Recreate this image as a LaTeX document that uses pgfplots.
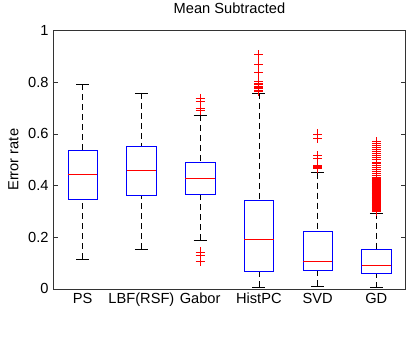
\documentclass[border=0pt]{standalone}
\usepackage{fontspec}
\setmainfont{Liberation Sans}
\usepackage{pgfplots}
\pgfplotsset{compat=1.18}
\usepgfplotslibrary{statistics}
\definecolor{mblue}{RGB}{0,0,255}
\definecolor{mred}{RGB}{255,0,0}
\newcommand{\fs}{\fontsize{14.7}{17}\selectfont}

\pgfplotsset{
  mlbox/.style={
    color=mred,
    boxplot/draw direction=y,
    boxplot/box extend=0.5,
    boxplot/whisker extend=0.22,
    boxplot/every box/.style={draw=mblue,line width=0.6pt},
    boxplot/every median/.style={draw=mred,line width=0.6pt},
    boxplot/draw/lower whisker/.code={
      \draw[black,line width=0.6pt,dash pattern=on 6bp off 4bp]
        (boxplot box cs:\pgfplotsboxplotvalue{lower whisker},0.5)
        -- (boxplot box cs:\pgfplotsboxplotvalue{lower quartile},0.5);
      \draw[black,line width=0.6pt]
        (boxplot whisker cs:\pgfplotsboxplotvalue{lower whisker},0)
        -- (boxplot whisker cs:\pgfplotsboxplotvalue{lower whisker},1);
    },
    boxplot/draw/upper whisker/.code={
      \draw[black,line width=0.6pt,dash pattern=on 6bp off 4bp]
        (boxplot box cs:\pgfplotsboxplotvalue{upper whisker},0.5)
        -- (boxplot box cs:\pgfplotsboxplotvalue{upper quartile},0.5);
      \draw[black,line width=0.6pt]
        (boxplot whisker cs:\pgfplotsboxplotvalue{upper whisker},0)
        -- (boxplot whisker cs:\pgfplotsboxplotvalue{upper whisker},1);
    },
    mark=+, mark size=4.5bp,
    mark options={draw=mred,color=mred,line width=0.8pt,solid},
  }
}

\begin{document}
\begin{tikzpicture}
\begin{axis}[
    name=ax,
    scale only axis,
    width=352.4bp, height=258.3bp,
    xmin=0.5, xmax=6.5, ymin=0, ymax=1,
    xtick={1,2,3,4,5,6},
    xticklabels={PS,LBF(RSF),Gabor,HistPC,SVD,GD},
    ytick={0,0.2,0.4,0.6,0.8,1},
    tick align=inside,
    ytick pos=both,
    major tick length=4.5bp,
    xtick style={draw=none},
    ytick style={black!80,line width=0.6pt},
    axis line style={black!80,line width=0.6pt},
    /pgf/number format/assume math mode=true,
    tick label style={font=\fs},
    xticklabel style={anchor=base,yshift=-14.3bp},
    yticklabel style={xshift=-1.2bp},
    ylabel={Error rate},
    ylabel style={font=\fs,at={(axis description cs:0,0.5)},anchor=base,yshift=35bp},
    title={Mean Subtracted},
    title style={font=\fs,at={(axis description cs:0.5,1)},anchor=base,yshift=10.7bp},
]
% PS
\addplot[mlbox,boxplot prepared={draw position=1,
  lower whisker=0.116, lower quartile=0.347, median=0.444,
  upper quartile=0.537, upper whisker=0.7925}] coordinates {};
% LBF(RSF)
\addplot[mlbox,boxplot prepared={draw position=2,
  lower whisker=0.154, lower quartile=0.364, median=0.461,
  upper quartile=0.551, upper whisker=0.759}] coordinates {};
% Gabor
\addplot[mlbox,boxplot prepared={draw position=3,
  lower whisker=0.189, lower quartile=0.368, median=0.429,
  upper quartile=0.490, upper whisker=0.674}]
  table[row sep=\\,y index=0] {v\\ 0.738\\ 0.725\\ 0.700\\ 0.690\\ 0.143\\ 0.130\\ 0.108\\};
% HistPC
\addplot[mlbox,boxplot prepared={draw position=4,
  lower whisker=0.008, lower quartile=0.067, median=0.191,
  upper quartile=0.343, upper whisker=0.759}]
  table[row sep=\\,y index=0] {v\\ 0.906\\ 0.871\\ 0.839\\ 0.805\\ 0.796\\ 0.790\\ 0.785\\ 0.780\\ 0.775\\ 0.770\\ 0.766\\};
% SVD
\addplot[mlbox,boxplot prepared={draw position=5,
  lower whisker=0.012, lower quartile=0.071, median=0.107,
  upper quartile=0.2245, upper whisker=0.450}]
  table[row sep=\\,y index=0] {v\\ 0.600\\ 0.581\\ 0.515\\ 0.506\\ 0.480\\ 0.475\\ 0.470\\ 0.465\\};
% GD
\addplot[mlbox,boxplot prepared={draw position=6,
  lower whisker=0.005, lower quartile=0.061, median=0.092,
  upper quartile=0.155, upper whisker=0.294}]
  table[row sep=\\,y index=0] {v\\ 0.570\\ 0.562\\ 0.555\\ 0.548\\ 0.540\\ 0.533\\ 0.525\\ 0.515\\ 0.508\\
  0.500\\ 0.490\\ 0.485\\ 0.478\\ 0.470\\ 0.462\\ 0.455\\ 0.447\\ 0.440\\ 0.433\\
  0.428\\ 0.425\\ 0.422\\ 0.419\\ 0.416\\ 0.413\\ 0.410\\ 0.407\\ 0.404\\ 0.401\\ 0.398\\ 0.395\\ 0.392\\
  0.389\\ 0.386\\ 0.383\\ 0.380\\ 0.377\\ 0.374\\ 0.371\\ 0.368\\ 0.365\\ 0.362\\ 0.359\\ 0.356\\ 0.353\\
  0.350\\ 0.347\\ 0.344\\ 0.341\\ 0.338\\ 0.335\\ 0.332\\ 0.329\\ 0.326\\ 0.323\\ 0.320\\ 0.317\\ 0.314\\
  0.311\\ 0.308\\ 0.305\\ 0.302\\ 0.299\\};
\end{axis}
\path ([shift={(-53.3bp,-56bp)}]ax.south west) rectangle ([shift={(1.3bp,25.7bp)}]ax.north east);
\end{tikzpicture}
\end{document}
